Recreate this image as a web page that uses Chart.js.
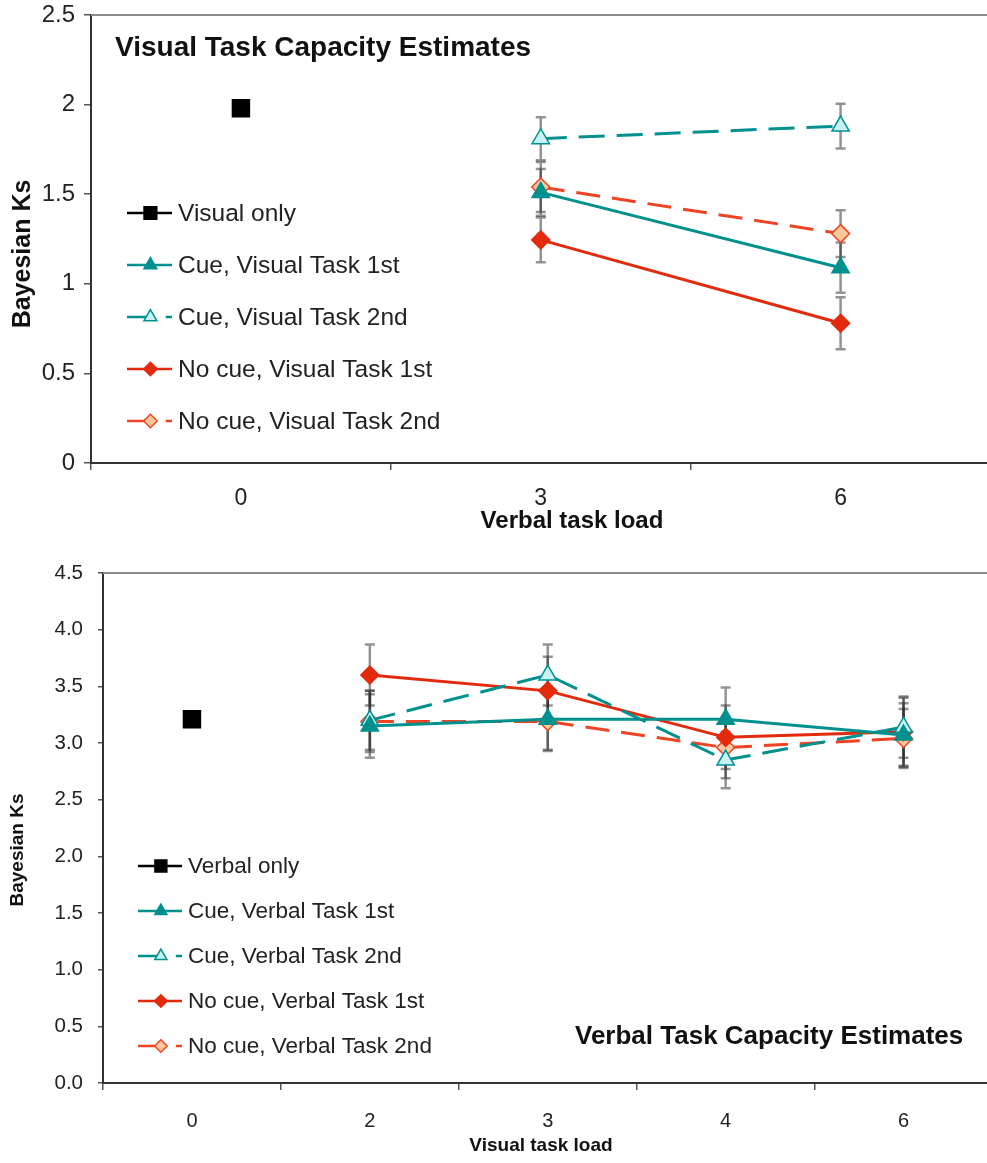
<!DOCTYPE html>
<html>
<head>
<meta charset="utf-8">
<script src="https://cdn.jsdelivr.net/npm/chart.js@4.4.1/dist/chart.umd.min.js"></script>
<style>
  html, body { margin: 0; padding: 0; background: #fff; overflow: hidden; }
  #wrap { width: 987px; height: 1163px; overflow: hidden; }
  canvas { display: block; }
</style>
</head>
<body>
<div id="wrap">
  <canvas id="visualChart" width="1004" height="545"></canvas>
  <canvas id="verbalChart" width="1006" height="618"></canvas>
</div>
<script>
// ---- data: visual task (top) ----
const verbalLoadLabels = ['0', '3', '6'];
const visualOnly = [1.98, null, null];
const cueVisual1st = [null, 1.51, 1.09];
const cueVisual1stErr = [0, 0.13, 0.14];
const cueVisual2nd = [null, 1.81, 1.88];
const cueVisual2ndErr = [0, 0.12, 0.125];
const noCueVisual1st = [null, 1.245, 0.78];
const noCueVisual1stErr = [0, 0.125, 0.145];
const noCueVisual2nd = [null, 1.54, 1.28];
const noCueVisual2ndErr = [0, 0.14, 0.13];

// ---- data: verbal task (bottom) ----
const visualLoadLabels = ['0', '2', '3', '4', '6'];
const verbalOnly = [3.21, null, null, null, null];
const cueVerbal1st = [null, 3.15, 3.21, 3.21, 3.07];
const cueVerbal1stErr = [0, 0.28, 0.27, 0.28, 0.28];
const cueVerbal2nd = [null, 3.20, 3.60, 2.85, 3.14];
const cueVerbal2ndErr = [0, 0.26, 0.27, 0.25, 0.27];
const noCueVerbal1st = [null, 3.60, 3.46, 3.05, 3.10];
const noCueVerbal1stErr = [0, 0.27, 0.30, 0.28, 0.30];
const noCueVerbal2nd = [null, 3.19, 3.19, 2.96, 3.04];
const noCueVerbal2ndErr = [0, 0.27, 0.26, 0.27, 0.26];

const teal = '#00918f';
const tealLight = '#c8f3f2';
const red = '#e42a0c';
const redOpen = '#ee4424';
const peach = '#fcc89b';
const FONT = '"Liberation Sans", Arial, Helvetica, sans-serif';

// error bars, drawn under the lines; overlaps get darker like the original
const errorBars = {
    id: 'errorBars',
    beforeDatasetsDraw(chart) {
        const ctx = chart.ctx;
        const yScale = chart.scales.y;
        chart.data.datasets.forEach((ds, i) => {
            if (!ds.errors) return;
            const meta = chart.getDatasetMeta(i);
            meta.data.forEach((pt, j) => {
                const v = ds.data[j];
                const e = ds.errors[j];
                if (v == null || !e) return;
                const yt = yScale.getPixelForValue(v + e);
                const yb = yScale.getPixelForValue(v - e);
                ctx.save();
                ctx.strokeStyle = 'rgba(40,40,40,0.5)';
                ctx.lineWidth = 2.5;
                ctx.beginPath();
                ctx.moveTo(pt.x, yt); ctx.lineTo(pt.x, yb);
                ctx.moveTo(pt.x - 5, yt); ctx.lineTo(pt.x + 5, yt);
                ctx.moveTo(pt.x - 5, yb); ctx.lineTo(pt.x + 5, yb);
                ctx.stroke();
                ctx.restore();
            });
        });
    }
};

function marker(ctx, style, x, y, r) {
    ctx.beginPath();
    if (style === 'rect') {
        ctx.rect(x - r * 0.707, y - r * 0.707, r * 1.414, r * 1.414);
    } else if (style === 'triangle') {
        ctx.moveTo(x, y - r);
        ctx.lineTo(x + r * 0.866, y + r * 0.5);
        ctx.lineTo(x - r * 0.866, y + r * 0.5);
        ctx.closePath();
    } else {
        ctx.moveTo(x, y - r);
        ctx.lineTo(x + r, y);
        ctx.lineTo(x, y + r);
        ctx.lineTo(x - r, y);
        ctx.closePath();
    }
    ctx.fill();
    ctx.stroke();
}

// legend sitting inside the plot, Excel style
const insideLegend = {
    id: 'insideLegend',
    afterDraw(chart, args, opts) {
        const ctx = chart.ctx;
        chart.data.datasets.forEach((ds, i) => {
            const cy = opts.y + i * opts.gap;
            const x0 = opts.x;
            const len = opts.lineLen;
            const mx = x0 + len * 0.52;
            ctx.save();
            ctx.strokeStyle = ds.borderColor;
            ctx.lineWidth = 2.5;
            ctx.beginPath();
            if (ds.borderDash) {
                ctx.moveTo(x0, cy); ctx.lineTo(mx, cy);
                ctx.moveTo(x0 + len * 0.86, cy); ctx.lineTo(x0 + len, cy);
            } else {
                ctx.moveTo(x0, cy); ctx.lineTo(x0 + len, cy);
            }
            ctx.stroke();
            ctx.fillStyle = ds.pointBackgroundColor;
            ctx.strokeStyle = ds.pointBorderColor;
            ctx.lineWidth = 1.5;
            marker(ctx, ds.pointStyle, mx, cy, ds.pointRadius * opts.markerScale);
            ctx.fillStyle = '#222';
            ctx.font = opts.fontSize + 'px ' + FONT;
            ctx.textBaseline = 'middle';
            ctx.fillText(ds.label, x0 + len + 6, cy + 1);
            ctx.restore();
        });
    }
};

// chart title inside the plot, axis titles, grey top frame line
const plotDecor = {
    id: 'plotDecor',
    afterDraw(chart, args, opts) {
        const ctx = chart.ctx;
        const a = chart.chartArea;
        ctx.save();
        ctx.strokeStyle = '#8a8a8a';
        ctx.lineWidth = 2;
        ctx.beginPath();
        ctx.moveTo(a.left, a.top);
        ctx.lineTo(a.right, a.top);
        ctx.stroke();
        ctx.fillStyle = '#111';
        ctx.font = 'bold ' + opts.fontSize + 'px ' + FONT;
        ctx.textBaseline = 'middle';
        ctx.fillText(opts.text, opts.x, opts.y);
        ctx.font = 'bold ' + opts.axisTitleSize + 'px ' + FONT;
        ctx.textAlign = 'center';
        ctx.fillText(opts.xTitle, opts.xTitleX, opts.xTitleY);
        ctx.translate(opts.yTitleX, opts.yTitleY);
        ctx.rotate(-Math.PI / 2);
        ctx.font = 'bold ' + opts.yTitleSize + 'px ' + FONT;
        ctx.fillText('Bayesian Ks', 0, 0);
        ctx.restore();
    }
};

function makeDatasets(labels, series) {
    const styles = [
        { color: '#000', fill: '#000', point: 'rect', r: 12, dash: null },
        { color: teal, fill: teal, point: 'triangle', r: 10, dash: null },
        { color: teal, fill: tealLight, point: 'triangle', r: 10, dash: [26, 12] },
        { color: red, fill: red, point: 'rectRot', r: 9, dash: null },
        { color: redOpen, fill: peach, point: 'rectRot', r: 9, dash: [24, 12] }
    ];
    return series.map((s, i) => ({
        label: labels[i],
        data: s.data,
        errors: s.errors,
        borderColor: styles[i].color,
        backgroundColor: styles[i].fill,
        borderWidth: 3,
        borderDash: styles[i].dash || undefined,
        pointStyle: styles[i].point,
        pointRadius: styles[i].r,
        pointHoverRadius: styles[i].r,
        pointBackgroundColor: styles[i].fill,
        pointBorderColor: styles[i].color,
        pointBorderWidth: 1.5,
        tension: 0
    }));
}

function axisOptions(cfg) {
    return {
        x: {
            type: 'category',
            offset: true,
            grid: { display: true, offset: true, drawOnChartArea: false, tickLength: 7, color: '#555', lineWidth: 1.5 },
            border: { color: '#333', width: 2 },
            ticks: { color: '#222', font: { family: FONT, size: cfg.xTickSize }, padding: cfg.xTickPad },
            afterFit: s => { s.height = cfg.xHeight; s.paddingLeft = 0; s.paddingRight = 0; }
        },
        y: {
            min: 0,
            max: cfg.yMax,
            grid: { drawOnChartArea: false, tickLength: cfg.yTick, color: '#555', lineWidth: 1.5 },
            border: { color: '#333', width: 2 },
            ticks: { stepSize: 0.5, color: '#222', padding: cfg.yTickPad,
                     font: { family: FONT, size: cfg.yTickSize },
                     callback: cfg.yFormat },
            afterFit: s => { s.width = cfg.yWidth; s.paddingTop = 0; s.paddingBottom = 0; }
        }
    };
}

new Chart(document.getElementById('visualChart'), {
    type: 'line',
    data: {
        labels: verbalLoadLabels,
        datasets: makeDatasets(
            ['Visual only', 'Cue, Visual Task 1st', 'Cue, Visual Task 2nd', 'No cue, Visual Task 1st', 'No cue, Visual Task 2nd'],
            [
                { data: visualOnly },
                { data: cueVisual1st, errors: cueVisual1stErr },
                { data: cueVisual2nd, errors: cueVisual2ndErr },
                { data: noCueVisual1st, errors: noCueVisual1stErr },
                { data: noCueVisual2nd, errors: noCueVisual2ndErr }
            ])
    },
    options: {
        responsive: false,
        animation: false,
        layout: { padding: { top: 15, right: 0, left: 0, bottom: 0 } },
        scales: axisOptions({
            xTickSize: 23, yTickSize: 24, xTickPad: 15,
            xHeight: 82, yMax: 2.5, yTick: 7, yTickPad: 9, yWidth: 91,
            yFormat: v => String(v)
        }),
        plugins: {
            legend: { display: false },
            tooltip: { enabled: false },
            insideLegend: { x: 127, y: 213, gap: 52, lineLen: 45, markerScale: 0.75, fontSize: 24.5 },
            plotDecor: { text: 'Visual Task Capacity Estimates', x: 115, y: 48, fontSize: 28,
                         xTitle: 'Verbal task load', xTitleX: 572, xTitleY: 521, axisTitleSize: 24,
                         yTitleX: 23, yTitleY: 254, yTitleSize: 25 }
        }
    },
    plugins: [errorBars, insideLegend, plotDecor]
});

new Chart(document.getElementById('verbalChart'), {
    type: 'line',
    data: {
        labels: visualLoadLabels,
        datasets: makeDatasets(
            ['Verbal only', 'Cue, Verbal Task 1st', 'Cue, Verbal Task 2nd', 'No cue, Verbal Task 1st', 'No cue, Verbal Task 2nd'],
            [
                { data: verbalOnly },
                { data: cueVerbal1st, errors: cueVerbal1stErr },
                { data: cueVerbal2nd, errors: cueVerbal2ndErr },
                { data: noCueVerbal1st, errors: noCueVerbal1stErr },
                { data: noCueVerbal2nd, errors: noCueVerbal2ndErr }
            ])
    },
    options: {
        responsive: false,
        animation: false,
        layout: { padding: { top: 28, right: 0, left: 0, bottom: 0 } },
        scales: axisOptions({
            xTickSize: 20, yTickSize: 20.5, xTickPad: 19,
            xHeight: 80, yMax: 4.5, yTick: 5, yTickPad: 15, yWidth: 103,
            yFormat: v => v.toFixed(1)
        }),
        plugins: {
            legend: { display: false },
            tooltip: { enabled: false },
            insideLegend: { x: 138, y: 321, gap: 45, lineLen: 44, markerScale: 0.7, fontSize: 22.5 },
            plotDecor: { text: 'Verbal Task Capacity Estimates', x: 575, y: 492, fontSize: 26,
                         xTitle: 'Visual task load', xTitleX: 541, xTitleY: 601, axisTitleSize: 19,
                         yTitleX: 18, yTitleY: 305, yTitleSize: 19 }
        }
    },
    plugins: [errorBars, insideLegend, plotDecor]
});
</script>
</body>
</html>
